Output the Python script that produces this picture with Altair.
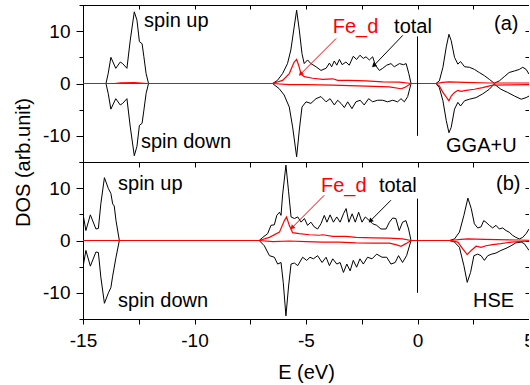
import altair as alt
import pandas as pd

FONT = "Liberation Sans"
X_DOMAIN = [-15, 5]
Y_DOMAIN = [-15, 15]
X_TICKS = [-15, -12.5, -10, -7.5, -5, -2.5, 0, 2.5, 5]
Y_TICKS = [-15, -10, -5, 0, 5, 10, 15]

# ---------------- panel (a) GGA+U ----------------
A_TOTAL_UP = [(-15, 0), (-13.97, 0), (-13.87, 1.9), (-13.75, 5.0), (-13.53, 2.9), (-13.33, 4.1), (-13.22, 3.8),
              (-13.03, 2.9), (-12.88, 8.3), (-12.70, 13.7), (-12.58, 12.1), (-12.47, 8.0), (-12.35, 7.6),
              (-12.27, 5.1), (-12.17, 1.9), (-12.06, 0),
              (-6.5, 0), (-6.28, 0.6), (-6.05, 1.9), (-5.83, 3.8), (-5.68, 6.4), (-5.53, 10.8), (-5.42, 14.0),
              (-5.30, 10.2), (-5.18, 5.7), (-5.08, 3.8), (-4.93, 4.5), (-4.78, 3.8), (-4.55, 3.2), (-4.33, 2.5),
              (-4.10, 2.9), (-3.95, 3.9), (-3.85, 3.2), (-3.73, 4.3), (-3.62, 3.5), (-3.50, 4.6), (-3.38, 3.6),
              (-3.21, 4.1), (-3.06, 3.5), (-2.88, 5.2), (-2.73, 4.6), (-2.58, 5.4), (-2.43, 4.8), (-2.31, 5.1),
              (-2.16, 4.5), (-2.01, 5.1), (-1.89, 3.5), (-1.71, 2.5), (-1.56, 2.9), (-1.38, 3.5), (-1.19, 3.8),
              (-1.04, 3.2), (-0.81, 3.8), (-0.63, 3.6), (-0.51, 3.8), (-0.39, 1.9), (-0.29, 0),
              (0.83, 0), (0.98, 0.5), (1.14, 3.1), (1.29, 7.0), (1.41, 9.4), (1.51, 8.2), (1.66, 5.0), (1.81, 3.7),
              (1.93, 4.2), (2.11, 3.2), (2.33, 3.1), (2.55, 2.7), (2.77, 2.1), (3.00, 1.5), (3.22, 0.8),
              (3.44, 0.05), (3.67, 0.5), (3.89, 1.3), (4.11, 2.1), (4.35, 2.4), (4.57, 2.7), (4.72, 3.1),
              (4.87, 2.7), (5.0, 1.8)]
A_TOTAL_DN = [(-15, 0), (-13.97, 0), (-13.87, -1.9), (-13.75, -4.9), (-13.53, -2.9), (-13.33, -4.1), (-13.22, -3.8),
              (-13.03, -2.9), (-12.88, -8.3), (-12.70, -13.8), (-12.58, -12.0), (-12.47, -8.0), (-12.35, -7.6),
              (-12.27, -5.1), (-12.17, -1.9), (-12.06, 0),
              (-6.5, 0), (-6.20, -1.0), (-5.98, -2.2), (-5.75, -4.5), (-5.60, -8.3), (-5.42, -14.0), (-5.30, -8.9),
              (-5.18, -4.5), (-5.00, -3.5), (-4.78, -3.8), (-4.55, -2.9), (-4.33, -2.5), (-4.10, -3.5),
              (-3.92, -2.9), (-3.73, -4.1), (-3.58, -3.2), (-3.43, -3.8), (-3.28, -4.6), (-3.13, -3.5),
              (-2.94, -4.8), (-2.76, -3.5), (-2.57, -3.2), (-2.39, -4.1), (-2.19, -2.9), (-2.01, -3.5),
              (-1.79, -3.2), (-1.56, -3.2), (-1.34, -3.5), (-1.11, -3.2), (-0.89, -3.5), (-0.74, -2.9),
              (-0.59, -3.5), (-0.44, -2.5), (-0.29, 0),
              (0.83, 0), (0.98, -0.8), (1.14, -3.3), (1.29, -7.1), (1.41, -9.4), (1.51, -8.4), (1.66, -4.9),
              (1.81, -3.6), (1.93, -4.3), (2.11, -3.3), (2.33, -3.0), (2.62, -2.7), (2.92, -2.0), (3.22, -1.1),
              (3.44, -0.1), (3.74, -1.1), (4.04, -1.7), (4.35, -2.4), (4.65, -3.0), (4.87, -2.7), (5.0, -2.4)]
A_FE_UP = [(-15, 0), (-13.6, 0), (-13.3, 0.12), (-12.7, 0.15), (-12.1, 0),
           (-6.5, 0), (-6.05, 0.6), (-5.75, 1.9), (-5.53, 4.1), (-5.42, 4.6), (-5.33, 3.5), (-5.22, 1.8),
           (-5.08, 1.3), (-4.70, 1.0), (-4.25, 0.8), (-3.80, 0.9), (-3.58, 0.6), (-3.06, 0.6), (-2.31, 0.5),
           (-1.56, 0.3), (-0.81, 0.25), (-0.29, 0),
           (0.83, 0), (1.14, 0.2), (1.41, 0.3), (2.11, 0.2), (3.22, 0.1), (5.0, 0.1)]
A_FE_DN = [(-15, 0), (-6.5, 0), (-5.75, -0.2), (-5.0, -0.2), (-3.8, -0.3), (-2.31, -0.5), (-1.26, -0.65),
           (-0.74, -1.0), (-0.59, -0.8), (-0.29, 0),
           (0.83, 0), (0.98, -0.45), (1.14, -1.7), (1.41, -3.3), (1.51, -2.4), (1.66, -1.7), (1.81, -1.3),
           (1.96, -1.5), (2.18, -1.3), (2.55, -1.1), (2.92, -0.8), (3.37, -0.3), (4.11, -0.25), (5.0, -0.2)]
A_TEXT = ["spin up", "spin down", "Fe_d", "total", "(a)", "GGA+U"]
A_TEXT_X = [-12.26, -12.40, -3.80, -1.05, 3.43, 1.28]
A_TEXT_Y = [10.8, -12.4, 9.6, 9.6, 10.2, -13.1]
A_TEXT_COLOR = ["black", "black", "red", "black", "black", "black"]
A_ARROW_FROM = [(-3.65, 8.6), (-0.66, 9.2)]
A_ARROW_TO = [(-5.22, 1.9), (-1.94, 3.5)]
A_ARROW_COLOR = ["red", "black"]
A_VLINE = (0, -10, 9)

# ---------------- panel (b) HSE ----------------
B_TOTAL_UP = [(-15, 5.1), (-14.87, 1.9), (-14.67, 4.9), (-14.42, 2.2), (-14.31, 2.3), (-14.2, 7.0), (-14.04, 12.0),
              (-13.86, 9.9), (-13.75, 9.0), (-13.67, 7.0), (-13.6, 6.6), (-13.52, 3.8), (-13.37, 0),
              (-7.1, 0), (-6.94, 0.6), (-6.72, 1.3), (-6.57, 2.9), (-6.42, 3.0), (-6.31, 4.8), (-6.19, 5.4),
              (-6.12, 4.8), (-6.05, 8.7), (-5.90, 14.4), (-5.78, 9.3), (-5.67, 4.5), (-5.52, 4.2), (-5.37, 4.5),
              (-5.22, 3.5), (-5.07, 4.2), (-4.93, 2.9), (-4.78, 3.5), (-4.63, 2.6), (-4.48, 2.2), (-4.33, 3.2),
              (-4.18, 4.8), (-4.06, 3.5), (-3.92, 4.9), (-3.77, 3.5), (-3.62, 4.5), (-3.47, 3.5), (-3.32, 5.1),
              (-3.20, 6.1), (-3.08, 3.5), (-2.93, 5.1), (-2.79, 3.5), (-2.64, 5.4), (-2.49, 3.5), (-2.34, 4.5),
              (-2.16, 3.8), (-2.01, 3.2), (-1.83, 2.9), (-1.64, 2.2), (-1.41, 2.2), (-1.26, 3.5), (-1.11, 4.3),
              (-0.97, 4.2), (-0.82, 1.9), (-0.67, 3.5), (-0.52, 3.8), (-0.40, 2.2), (-0.29, 0),
              (1.44, 0), (1.66, 0.3), (1.88, 1.6), (2.08, 4.8), (2.26, 8.1), (2.41, 6.1), (2.55, 3.2), (2.70, 2.4),
              (2.85, 2.6), (2.97, 3.8), (3.07, 3.5), (3.22, 2.9), (3.37, 2.4), (3.52, 2.9), (3.67, 2.2),
              (3.82, 2.4), (3.97, 1.9), (4.11, 1.6), (4.26, 1.0), (4.41, 0.6), (4.57, 0.3), (4.72, 0.6),
              (4.87, 1.3), (5.0, 2.2)]
B_TOTAL_DN = [(-15, -5.1), (-14.87, -1.9), (-14.67, -4.9), (-14.42, -2.2), (-14.31, -2.3), (-14.2, -7.0),
              (-14.04, -12.0), (-13.86, -10.0), (-13.75, -9.0), (-13.67, -6.8), (-13.52, -3.2), (-13.37, 0),
              (-7.1, 0), (-6.87, -1.0), (-6.64, -2.9), (-6.42, -3.2), (-6.27, -4.5), (-6.12, -4.2), (-6.02, -8.0),
              (-5.90, -14.4), (-5.78, -8.7), (-5.67, -4.5), (-5.52, -4.3), (-5.37, -4.8), (-5.15, -3.2),
              (-4.97, -3.8), (-4.82, -3.2), (-4.67, -3.5), (-4.48, -2.9), (-4.28, -4.2), (-4.10, -3.2),
              (-3.95, -4.8), (-3.80, -3.5), (-3.62, -4.5), (-3.47, -4.2), (-3.32, -6.1), (-3.17, -4.5),
              (-3.02, -5.8), (-2.88, -3.8), (-2.73, -5.1), (-2.58, -3.5), (-2.43, -4.5), (-2.24, -3.2),
              (-2.04, -3.5), (-1.83, -2.6), (-1.59, -3.2), (-1.38, -3.2), (-1.19, -4.5), (-1.00, -4.2),
              (-0.85, -2.9), (-0.67, -4.2), (-0.49, -2.9), (-0.29, 0),
              (1.44, 0), (1.66, -0.3), (1.88, -1.3), (2.08, -4.8), (2.23, -8.0), (2.38, -6.1), (2.53, -2.9),
              (2.70, -2.6), (2.85, -2.9), (3.00, -3.8), (3.15, -2.9), (3.33, -2.6), (3.52, -2.4), (3.74, -1.9),
              (3.97, -1.5), (4.20, -1.0), (4.41, -0.45), (4.65, -0.3), (4.79, -0.6), (5.0, -1.9)]
B_FE_UP = [(-15, 0), (-7.1, 0), (-6.64, 0.6), (-6.19, 1.6), (-5.97, 3.8), (-5.87, 4.5), (-5.75, 2.9),
           (-5.60, 1.5), (-5.30, 1.3), (-4.85, 1.1), (-4.40, 1.0), (-4.25, 1.1), (-3.80, 0.8), (-3.20, 0.8),
           (-2.76, 0.6), (-2.01, 0.5), (-1.26, 0.45), (-0.67, 0.3), (-0.29, 0),
           (1.44, 0), (1.96, 0.2), (2.26, 0.3), (3.0, 0.2), (4.5, 0.1), (5.0, 0.05)]
B_FE_DN = [(-15, 0), (-7.1, 0), (-6.49, -0.2), (-5.75, -0.1), (-5.0, -0.2), (-4.25, -0.3), (-3.5, -0.3),
           (-2.76, -0.45), (-2.01, -0.5), (-1.26, -0.5), (-0.97, -0.8), (-0.74, -1.1), (-0.52, -0.6), (-0.29, 0),
           (1.44, 0), (1.81, -0.3), (2.03, -1.6), (2.23, -2.7), (2.41, -1.9), (2.63, -1.1), (2.85, -1.3),
           (3.07, -1.0), (3.37, -0.8), (3.74, -0.6), (4.20, -0.3), (5.0, -0.1)]
B_TEXT = ["spin up", "spin down", "Fe_d", "total", "(b)", "HSE"]
B_TEXT_X = [-13.43, -13.43, -4.33, -1.73, 3.52, 2.49]
B_TEXT_Y = [9.6, -12.8, 9.3, 9.2, 9.6, -12.8]
B_TEXT_COLOR = ["black", "black", "red", "black", "black", "black"]
B_ARROW_FROM = [(-4.18, 8.65), (-1.19, 7.7)]
B_ARROW_TO = [(-5.60, 2.56), (-2.09, 3.85)]
B_ARROW_COLOR = ["red", "black"]
B_VLINE = (0, -10, 8)

PANEL_W = 446
PANEL_H = 157

xscale = alt.Scale(domain=X_DOMAIN, nice=False, zero=False)
yscale = alt.Scale(domain=Y_DOMAIN, nice=False, zero=False)


def curves(up, dn):
    rows = [{"E": e, "DOS": v, "series": "up"} for e, v in up]
    rows += [{"E": e, "DOS": v, "series": "down"} for e, v in dn]
    return pd.DataFrame(rows)


def panel(total_up, total_dn, fe_up, fe_dn, texts, tx, ty, tcol, afrom, ato, acol, vline, bottom):
    y_axis = alt.Axis(
        orient="left", values=Y_TICKS, grid=False,
        labelExpr="datum.value % 10 == 0 ? '' + datum.value : ''",
        tickSize={"condition": {"test": "datum.value % 10 == 0", "value": 7}, "value": 4},
        labelPadding=6,
        title=None if bottom else "DOS (arb.unit)",
        titleX=-54, titleY=PANEL_H, titleAngle=270, titleAlign="center", titleBaseline="alphabetic",
    )
    if bottom:
        x_axis = alt.Axis(orient="bottom", values=X_TICKS, grid=False, labelFlush=False,
                          labelExpr="datum.value % 5 == 0 ? '' + datum.value : ''",
                          tickSize=5, labelPadding=7, title="E (eV)",
                          titleBaseline="alphabetic", titleY=59)
    else:
        x_axis = alt.Axis(orient="bottom", values=X_TICKS, grid=False, labels=False,
                          tickSize=5, title=None)

    black = alt.Chart(curves(total_up, total_dn)).mark_line(
        color="black", strokeWidth=1, clip=True
    ).encode(
        x=alt.X("E:Q", scale=xscale, axis=x_axis),
        y=alt.Y("DOS:Q", scale=yscale, axis=y_axis),
        detail="series:N",
    )
    red = alt.Chart(curves(fe_up, fe_dn)).mark_line(
        color="#ff0000", strokeWidth=1.2, clip=True
    ).encode(
        x=alt.X("E:Q", scale=xscale, axis=None),
        y=alt.Y("DOS:Q", scale=yscale, axis=None),
        detail="series:N",
    )
    vdf = pd.DataFrame({"x": [vline[0]], "y": [vline[1]], "y2": [vline[2]]})
    rule = alt.Chart(vdf).mark_rule(color="black", strokeWidth=1).encode(
        x=alt.X("x:Q", scale=xscale,
                axis=alt.Axis(orient="top", values=X_TICKS, labels=False, grid=False,
                              tickSize={"expr": "-4"}, title=None)),
        y=alt.Y("y:Q", scale=yscale,
                axis=alt.Axis(orient="right", values=Y_TICKS, labels=False, grid=False,
                              tickSize={"expr": "-4"}, title=None)),
        y2="y2:Q",
    )
    tdf = pd.DataFrame({"label": texts, "x": tx, "y": ty, "c": tcol})
    text = alt.Chart(tdf).mark_text(
        font=FONT, fontSize=20, align="left", baseline="alphabetic"
    ).encode(
        x=alt.X("x:Q", scale=xscale, axis=None),
        y=alt.Y("y:Q", scale=yscale, axis=None),
        text="label:N",
        color=alt.Color("c:N", scale=None),
    )
    adf = pd.DataFrame({
        "x": [p[0] for p in afrom], "y": [p[1] for p in afrom],
        "x2": [p[0] for p in ato], "y2": [p[1] for p in ato], "c": acol,
    })
    arrows = alt.Chart(adf).mark_rule(strokeWidth=1).encode(
        x=alt.X("x:Q", scale=xscale, axis=None),
        y=alt.Y("y:Q", scale=yscale, axis=None),
        x2="x2:Q", y2="y2:Q",
        color=alt.Color("c:N", scale=None),
    )
    heads = alt.Chart(adf).mark_point(shape="triangle", filled=True, size=28, angle=225, opacity=1).encode(
        x=alt.X("x2:Q", scale=xscale, axis=None),
        y=alt.Y("y2:Q", scale=yscale, axis=None),
        color=alt.Color("c:N", scale=None),
    )
    return alt.layer(black, red, rule, text, arrows, heads).resolve_axis(
        x="independent", y="independent"
    ).properties(width=PANEL_W, height=PANEL_H)


top = panel(A_TOTAL_UP, A_TOTAL_DN, A_FE_UP, A_FE_DN, A_TEXT, A_TEXT_X, A_TEXT_Y, A_TEXT_COLOR,
            A_ARROW_FROM, A_ARROW_TO, A_ARROW_COLOR, A_VLINE, bottom=False)
bot = panel(B_TOTAL_UP, B_TOTAL_DN, B_FE_UP, B_FE_DN, B_TEXT, B_TEXT_X, B_TEXT_Y, B_TEXT_COLOR,
            B_ARROW_FROM, B_ARROW_TO, B_ARROW_COLOR, B_VLINE, bottom=True)

chart = alt.vconcat(top, bot, spacing=0, bounds="flush").properties(
    padding={"left": 12, "top": 4, "right": -6, "bottom": 0},
    background="white",
).configure_axis(
    labelFont=FONT, titleFont=FONT, labelFontSize=19, titleFontSize=20,
    titleFontWeight="normal", labelColor="black", titleColor="black",
    domainColor="black", tickColor="black", domainWidth=1, tickWidth=1,
).configure_view(stroke="black", strokeWidth=1)

chart.save("out.html", embed_options={"renderer": "svg", "actions": False})
